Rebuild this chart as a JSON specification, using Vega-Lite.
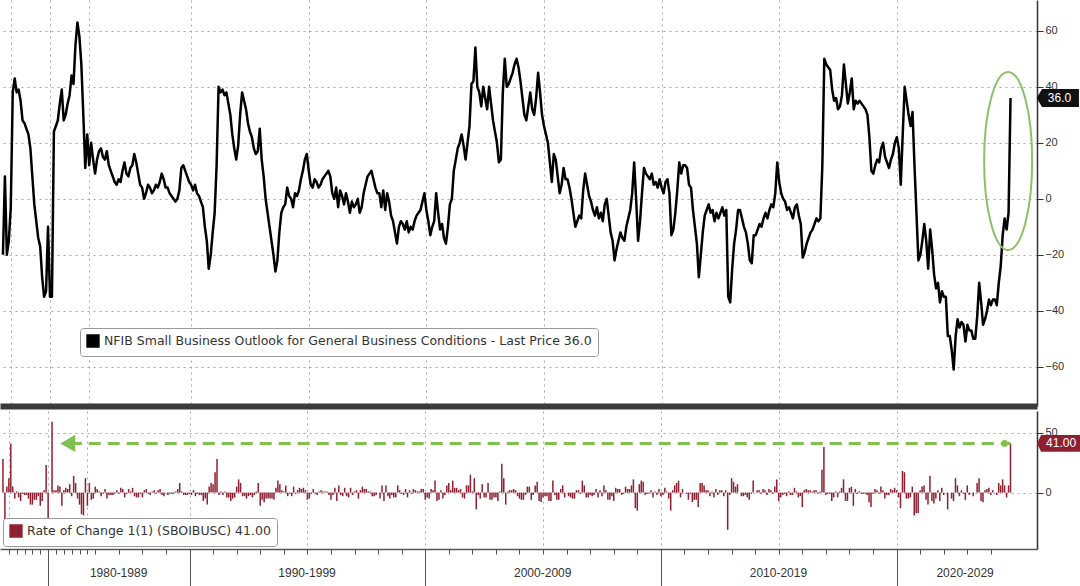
{
"$schema": "https://vega.github.io/schema/vega-lite/v6.json",
"padding": 0,
"autosize": {"type": "pad"},
"background": "white",
"spacing": 5,
"config": {"view": {"stroke": null}, "font": "Liberation Sans", "axis": {"labelFont": "Liberation Sans"}, "legend": {"labelFont": "DejaVu Sans"}},
"resolve": {"scale": {"color": "independent"}},
"datasets": {"n": [
{"d":"1974-01","v":-20},{"d":"1974-04","v":8,"c":28},{"d":"1974-07","v":-20,"c":-28},{"d":"1974-10","v":-15,"c":5},
{"d":"1975-01","v":-3,"c":12},{"d":"1975-04","v":38,"c":41},{"d":"1975-07","v":43,"c":5},{"d":"1975-10","v":38,"c":-5},
{"d":"1976-01","v":39,"c":1},{"d":"1976-04","v":35,"c":-4},{"d":"1976-07","v":28,"c":-7},{"d":"1976-10","v":27,"c":-1},
{"d":"1977-01","v":25,"c":-2},{"d":"1977-04","v":23,"c":-2},{"d":"1977-07","v":18,"c":-5},{"d":"1977-10","v":8,"c":-10},
{"d":"1978-01","v":-2,"c":-10},{"d":"1978-04","v":-8,"c":-6},{"d":"1978-07","v":-14,"c":-6},{"d":"1978-10","v":-17,"c":-3},
{"d":"1979-01","v":-28,"c":-11},{"d":"1979-04","v":-35,"c":-7},{"d":"1979-07","v":-33,"c":2},{"d":"1979-10","v":-10,"c":23},
{"d":"1980-01","v":-35,"c":-25},{"d":"1980-04","v":-35,"c":0},{"d":"1980-07","v":24,"c":59},{"d":"1980-10","v":26,"c":2},
{"d":"1981-01","v":28,"c":2},{"d":"1981-04","v":34,"c":6},{"d":"1981-07","v":39,"c":5},{"d":"1981-10","v":28,"c":-11},
{"d":"1982-01","v":30,"c":2},{"d":"1982-04","v":34,"c":4},{"d":"1982-07","v":37,"c":3},{"d":"1982-10","v":44,"c":7},
{"d":"1983-01","v":41,"c":-3},{"d":"1983-04","v":55,"c":14},{"d":"1983-07","v":63,"c":8},{"d":"1983-10","v":58,"c":-5},
{"d":"1984-01","v":48,"c":-10},{"d":"1984-04","v":30,"c":-18},{"d":"1984-07","v":11,"c":-19},{"d":"1984-10","v":23,"c":12},
{"d":"1985-01","v":12,"c":-11},{"d":"1985-04","v":20,"c":8},{"d":"1985-07","v":14,"c":-6},{"d":"1985-10","v":9,"c":-5},
{"d":"1986-01","v":14,"c":5},{"d":"1986-02","v":17,"c":3},{"d":"1986-03","v":18,"c":1},{"d":"1986-04","v":15,"c":-3},{"d":"1986-05","v":14,"c":-1},{"d":"1986-06","v":17,"c":3},{"d":"1986-07","v":12,"c":-5},{"d":"1986-08","v":10,"c":-2},{"d":"1986-09","v":8,"c":-2},{"d":"1986-10","v":6,"c":-2},{"d":"1986-11","v":5,"c":-1},{"d":"1986-12","v":7,"c":2},
{"d":"1987-01","v":6,"c":-1},{"d":"1987-02","v":10,"c":4},{"d":"1987-03","v":13,"c":3},{"d":"1987-04","v":9,"c":-4},{"d":"1987-05","v":8,"c":-1},{"d":"1987-06","v":11,"c":3},{"d":"1987-07","v":12,"c":1},{"d":"1987-08","v":16,"c":4},{"d":"1987-09","v":13,"c":-3},{"d":"1987-10","v":9,"c":-4},{"d":"1987-11","v":5,"c":-4},{"d":"1987-12","v":4,"c":-1},
{"d":"1988-01","v":0,"c":-4},{"d":"1988-02","v":2,"c":2},{"d":"1988-03","v":5,"c":3},{"d":"1988-04","v":4,"c":-1},{"d":"1988-05","v":2,"c":-2},{"d":"1988-06","v":3,"c":1},{"d":"1988-07","v":5,"c":2},{"d":"1988-08","v":4,"c":-1},{"d":"1988-09","v":6,"c":2},{"d":"1988-10","v":9,"c":3},{"d":"1988-11","v":7,"c":-2},{"d":"1988-12","v":4,"c":-3},
{"d":"1989-01","v":4,"c":0},{"d":"1989-02","v":2,"c":-2},{"d":"1989-03","v":1,"c":-1},{"d":"1989-04","v":0,"c":-1},{"d":"1989-05","v":-1,"c":-1},{"d":"1989-06","v":0,"c":1},{"d":"1989-07","v":3,"c":3},{"d":"1989-08","v":11,"c":8},{"d":"1989-09","v":12,"c":1},{"d":"1989-10","v":10,"c":-2},{"d":"1989-11","v":8,"c":-2},{"d":"1989-12","v":6,"c":-2},
{"d":"1990-01","v":5,"c":-1},{"d":"1990-02","v":3,"c":-2},{"d":"1990-03","v":5,"c":2},{"d":"1990-04","v":2,"c":-3},{"d":"1990-05","v":1,"c":-1},{"d":"1990-06","v":-1,"c":-2},{"d":"1990-07","v":-3,"c":-2},{"d":"1990-08","v":-10,"c":-7},{"d":"1990-09","v":-15,"c":-5},{"d":"1990-10","v":-25,"c":-10},{"d":"1990-11","v":-20,"c":5},{"d":"1990-12","v":-12,"c":8},
{"d":"1991-01","v":-5,"c":7},{"d":"1991-02","v":12,"c":17},{"d":"1991-03","v":40,"c":28},{"d":"1991-04","v":38,"c":-2},{"d":"1991-05","v":39,"c":1},{"d":"1991-06","v":37,"c":-2},{"d":"1991-07","v":38,"c":1},{"d":"1991-08","v":34,"c":-4},{"d":"1991-09","v":30,"c":-4},{"d":"1991-10","v":23,"c":-7},{"d":"1991-11","v":18,"c":-5},{"d":"1991-12","v":14,"c":-4},
{"d":"1992-01","v":19,"c":5},{"d":"1992-02","v":30,"c":11},{"d":"1992-03","v":38,"c":8},{"d":"1992-04","v":35,"c":-3},{"d":"1992-05","v":32,"c":-3},{"d":"1992-06","v":27,"c":-5},{"d":"1992-07","v":24,"c":-3},{"d":"1992-08","v":22,"c":-2},{"d":"1992-09","v":18,"c":-4},{"d":"1992-10","v":16,"c":-2},{"d":"1992-11","v":17,"c":1},{"d":"1992-12","v":25,"c":8},
{"d":"1993-01","v":14,"c":-11},{"d":"1993-02","v":8,"c":-6},{"d":"1993-03","v":0,"c":-8},{"d":"1993-04","v":-5,"c":-5},{"d":"1993-05","v":-10,"c":-5},{"d":"1993-06","v":-15,"c":-5},{"d":"1993-07","v":-20,"c":-5},{"d":"1993-08","v":-26,"c":-6},{"d":"1993-09","v":-22,"c":4},{"d":"1993-10","v":-12,"c":10},{"d":"1993-11","v":-5,"c":7},{"d":"1993-12","v":-3,"c":2},
{"d":"1994-01","v":-2,"c":1},{"d":"1994-02","v":4,"c":6},{"d":"1994-03","v":1,"c":-3},{"d":"1994-04","v":0,"c":-1},{"d":"1994-05","v":-3,"c":-3},{"d":"1994-06","v":2,"c":5},{"d":"1994-07","v":1,"c":-1},{"d":"1994-08","v":3,"c":2},{"d":"1994-09","v":7,"c":4},{"d":"1994-10","v":10,"c":3},{"d":"1994-11","v":14,"c":4},{"d":"1994-12","v":16,"c":2},
{"d":"1995-01","v":10,"c":-6},{"d":"1995-02","v":5,"c":-5},{"d":"1995-03","v":4,"c":-1},{"d":"1995-04","v":7,"c":3},{"d":"1995-05","v":6,"c":-1},{"d":"1995-06","v":4,"c":-2},{"d":"1995-07","v":5,"c":1},{"d":"1995-08","v":7,"c":2},{"d":"1995-09","v":8,"c":1},{"d":"1995-10","v":9,"c":1},{"d":"1995-11","v":10,"c":1},{"d":"1995-12","v":8,"c":-2},
{"d":"1996-01","v":2,"c":-6},{"d":"1996-02","v":0,"c":-2},{"d":"1996-03","v":4,"c":4},{"d":"1996-04","v":-3,"c":-7},{"d":"1996-05","v":3,"c":6},{"d":"1996-06","v":1,"c":-2},{"d":"1996-07","v":-2,"c":-3},{"d":"1996-08","v":2,"c":4},{"d":"1996-09","v":-1,"c":-3},{"d":"1996-10","v":-5,"c":-4},{"d":"1996-11","v":-1,"c":4},{"d":"1996-12","v":-3,"c":-2},
{"d":"1997-01","v":-2,"c":1},{"d":"1997-02","v":0,"c":2},{"d":"1997-03","v":-5,"c":-5},{"d":"1997-04","v":-3,"c":2},{"d":"1997-05","v":2,"c":5},{"d":"1997-06","v":5,"c":3},{"d":"1997-07","v":8,"c":3},{"d":"1997-08","v":9,"c":1},{"d":"1997-09","v":10,"c":1},{"d":"1997-10","v":7,"c":-3},{"d":"1997-11","v":4,"c":-3},{"d":"1997-12","v":2,"c":-2},
{"d":"1998-01","v":2,"c":0},{"d":"1998-02","v":-3,"c":-5},{"d":"1998-03","v":3,"c":6},{"d":"1998-04","v":-4,"c":-7},{"d":"1998-05","v":2,"c":6},{"d":"1998-06","v":-1,"c":-3},{"d":"1998-07","v":-6,"c":-5},{"d":"1998-08","v":-8,"c":-2},{"d":"1998-09","v":-12,"c":-4},{"d":"1998-10","v":-16,"c":-4},{"d":"1998-11","v":-10,"c":6},{"d":"1998-12","v":-8,"c":2},
{"d":"1999-01","v":-9,"c":-1},{"d":"1999-02","v":-11,"c":-2},{"d":"1999-03","v":-8,"c":3},{"d":"1999-04","v":-12,"c":-4},{"d":"1999-05","v":-10,"c":2},{"d":"1999-06","v":-11,"c":-1},{"d":"1999-07","v":-8,"c":3},{"d":"1999-08","v":-6,"c":2},{"d":"1999-09","v":-5,"c":1},{"d":"1999-10","v":-4,"c":1},{"d":"1999-11","v":-1,"c":3},{"d":"1999-12","v":2,"c":3},
{"d":"2000-01","v":-4,"c":-6},{"d":"2000-02","v":-8,"c":-4},{"d":"2000-03","v":-13,"c":-5},{"d":"2000-04","v":-10,"c":3},{"d":"2000-05","v":-8,"c":2},{"d":"2000-06","v":2,"c":10},{"d":"2000-07","v":-5,"c":-7},{"d":"2000-08","v":-11,"c":-6},{"d":"2000-09","v":-9,"c":2},{"d":"2000-10","v":-14,"c":-5},{"d":"2000-11","v":-16,"c":-2},{"d":"2000-12","v":-10,"c":6},
{"d":"2001-01","v":-2,"c":8},{"d":"2001-02","v":0,"c":2},{"d":"2001-03","v":10,"c":10},{"d":"2001-04","v":14,"c":4},{"d":"2001-05","v":18,"c":4},{"d":"2001-06","v":20,"c":2},{"d":"2001-07","v":23,"c":3},{"d":"2001-08","v":19,"c":-4},{"d":"2001-09","v":14,"c":-5},{"d":"2001-10","v":20,"c":6},{"d":"2001-11","v":26,"c":6},{"d":"2001-12","v":41,"c":15},
{"d":"2002-01","v":42,"c":1},{"d":"2002-02","v":54,"c":12},{"d":"2002-03","v":40,"c":-14},{"d":"2002-04","v":38,"c":-2},{"d":"2002-05","v":33,"c":-5},{"d":"2002-06","v":40,"c":7},{"d":"2002-07","v":36,"c":-4},{"d":"2002-08","v":32,"c":-4},{"d":"2002-09","v":40,"c":8},{"d":"2002-10","v":34,"c":-6},{"d":"2002-11","v":28,"c":-6},{"d":"2002-12","v":24,"c":-4},
{"d":"2003-01","v":20,"c":-4},{"d":"2003-02","v":13,"c":-7},{"d":"2003-03","v":14,"c":1},{"d":"2003-04","v":38,"c":24},{"d":"2003-05","v":50,"c":12},{"d":"2003-06","v":40,"c":-10},{"d":"2003-07","v":41,"c":1},{"d":"2003-08","v":43,"c":2},{"d":"2003-09","v":45,"c":2},{"d":"2003-10","v":48,"c":3},{"d":"2003-11","v":50,"c":2},{"d":"2003-12","v":47,"c":-3},
{"d":"2004-01","v":42,"c":-5},{"d":"2004-02","v":36,"c":-6},{"d":"2004-03","v":30,"c":-6},{"d":"2004-04","v":28,"c":-2},{"d":"2004-05","v":33,"c":5},{"d":"2004-06","v":38,"c":5},{"d":"2004-07","v":32,"c":-6},{"d":"2004-08","v":30,"c":-2},{"d":"2004-09","v":36,"c":6},{"d":"2004-10","v":45,"c":9},{"d":"2004-11","v":38,"c":-7},{"d":"2004-12","v":30,"c":-8},
{"d":"2005-01","v":26,"c":-4},{"d":"2005-02","v":23,"c":-3},{"d":"2005-03","v":20,"c":-3},{"d":"2005-04","v":13,"c":-7},{"d":"2005-05","v":6,"c":-7},{"d":"2005-06","v":16,"c":10},{"d":"2005-07","v":14,"c":-2},{"d":"2005-08","v":8,"c":-6},{"d":"2005-09","v":2,"c":-6},{"d":"2005-10","v":5,"c":3},{"d":"2005-11","v":11,"c":6},{"d":"2005-12","v":7,"c":-4},
{"d":"2006-01","v":7,"c":0},{"d":"2006-02","v":4,"c":-3},{"d":"2006-03","v":0,"c":-4},{"d":"2006-04","v":-5,"c":-5},{"d":"2006-05","v":-10,"c":-5},{"d":"2006-06","v":-8,"c":2},{"d":"2006-07","v":-6,"c":2},{"d":"2006-08","v":-7,"c":-1},{"d":"2006-09","v":3,"c":10},{"d":"2006-10","v":9,"c":6},{"d":"2006-11","v":5,"c":-4},{"d":"2006-12","v":1,"c":-4},
{"d":"2007-01","v":-1,"c":-2},{"d":"2007-02","v":-4,"c":-3},{"d":"2007-03","v":-6,"c":-2},{"d":"2007-04","v":-3,"c":3},{"d":"2007-05","v":-7,"c":-4},{"d":"2007-06","v":-5,"c":2},{"d":"2007-07","v":-8,"c":-3},{"d":"2007-08","v":-2,"c":6},{"d":"2007-09","v":0,"c":2},{"d":"2007-10","v":-6,"c":-6},{"d":"2007-11","v":-12,"c":-6},{"d":"2007-12","v":-15,"c":-3},
{"d":"2008-01","v":-22,"c":-7},{"d":"2008-02","v":-18,"c":4},{"d":"2008-03","v":-15,"c":3},{"d":"2008-04","v":-12,"c":3},{"d":"2008-05","v":-14,"c":-2},{"d":"2008-06","v":-15,"c":-1},{"d":"2008-07","v":-10,"c":5},{"d":"2008-08","v":-7,"c":3},{"d":"2008-09","v":-4,"c":3},{"d":"2008-10","v":2,"c":6},{"d":"2008-11","v":13,"c":11},{"d":"2008-12","v":0,"c":-13},
{"d":"2009-01","v":-15,"c":-15},{"d":"2009-02","v":-8,"c":7},{"d":"2009-03","v":2,"c":10},{"d":"2009-04","v":11,"c":9},{"d":"2009-05","v":9,"c":-2},{"d":"2009-06","v":8,"c":-1},{"d":"2009-07","v":7,"c":-1},{"d":"2009-08","v":9,"c":2},{"d":"2009-09","v":5,"c":-4},{"d":"2009-10","v":6,"c":1},{"d":"2009-11","v":4,"c":-2},{"d":"2009-12","v":7,"c":3},
{"d":"2010-01","v":4,"c":-3},{"d":"2010-02","v":2,"c":-2},{"d":"2010-03","v":6,"c":4},{"d":"2010-04","v":7,"c":1},{"d":"2010-05","v":2,"c":-5},{"d":"2010-06","v":-13,"c":-15},{"d":"2010-07","v":-11,"c":2},{"d":"2010-08","v":-5,"c":6},{"d":"2010-09","v":3,"c":8},{"d":"2010-10","v":13,"c":10},{"d":"2010-11","v":9,"c":-4},{"d":"2010-12","v":12,"c":3},
{"d":"2011-01","v":12,"c":0},{"d":"2011-02","v":11,"c":-1},{"d":"2011-03","v":5,"c":-6},{"d":"2011-04","v":4,"c":-1},{"d":"2011-05","v":-4,"c":-8},{"d":"2011-06","v":-10,"c":-6},{"d":"2011-07","v":-16,"c":-6},{"d":"2011-08","v":-28,"c":-12},{"d":"2011-09","v":-20,"c":8},{"d":"2011-10","v":-12,"c":8},{"d":"2011-11","v":-6,"c":6},{"d":"2011-12","v":-4,"c":2},
{"d":"2012-01","v":-2,"c":2},{"d":"2012-02","v":-5,"c":-3},{"d":"2012-03","v":-4,"c":1},{"d":"2012-04","v":-8,"c":-4},{"d":"2012-05","v":-5,"c":3},{"d":"2012-06","v":-7,"c":-2},{"d":"2012-07","v":-5,"c":2},{"d":"2012-08","v":-3,"c":2},{"d":"2012-09","v":-6,"c":-3},{"d":"2012-10","v":-4,"c":2},{"d":"2012-11","v":-35,"c":-31},{"d":"2012-12","v":-37,"c":-2},
{"d":"2013-01","v":-25,"c":12},{"d":"2013-02","v":-16,"c":9},{"d":"2013-03","v":-11,"c":5},{"d":"2013-04","v":-4,"c":7},{"d":"2013-05","v":-4,"c":0},{"d":"2013-06","v":-7,"c":-3},{"d":"2013-07","v":-10,"c":-3},{"d":"2013-08","v":-12,"c":-2},{"d":"2013-09","v":-16,"c":-4},{"d":"2013-10","v":-22,"c":-6},{"d":"2013-11","v":-23,"c":-1},{"d":"2013-12","v":-13,"c":10},
{"d":"2014-01","v":-13,"c":0},{"d":"2014-02","v":-11,"c":2},{"d":"2014-03","v":-9,"c":2},{"d":"2014-04","v":-10,"c":-1},{"d":"2014-05","v":-7,"c":3},{"d":"2014-06","v":-5,"c":2},{"d":"2014-07","v":-7,"c":-2},{"d":"2014-08","v":-4,"c":3},{"d":"2014-09","v":-2,"c":2},{"d":"2014-10","v":-3,"c":-1},{"d":"2014-11","v":2,"c":5},{"d":"2014-12","v":13,"c":11},
{"d":"2015-01","v":6,"c":-7},{"d":"2015-02","v":2,"c":-4},{"d":"2015-03","v":0,"c":-2},{"d":"2015-04","v":-1,"c":-1},{"d":"2015-05","v":-4,"c":-3},{"d":"2015-06","v":-3,"c":1},{"d":"2015-07","v":-5,"c":-2},{"d":"2015-08","v":-7,"c":-2},{"d":"2015-09","v":-3,"c":4},{"d":"2015-10","v":-2,"c":1},{"d":"2015-11","v":-6,"c":-4},{"d":"2015-12","v":-9,"c":-3},
{"d":"2016-01","v":-21,"c":-12},{"d":"2016-02","v":-19,"c":2},{"d":"2016-03","v":-16,"c":3},{"d":"2016-04","v":-14,"c":2},{"d":"2016-05","v":-12,"c":2},{"d":"2016-06","v":-11,"c":1},{"d":"2016-07","v":-9,"c":2},{"d":"2016-08","v":-7,"c":2},{"d":"2016-09","v":-8,"c":-1},{"d":"2016-10","v":-7,"c":1},{"d":"2016-11","v":12,"c":19},{"d":"2016-12","v":50,"c":38},
{"d":"2017-01","v":48,"c":-2},{"d":"2017-02","v":47,"c":-1},{"d":"2017-03","v":46,"c":-1},{"d":"2017-04","v":39,"c":-7},{"d":"2017-05","v":35,"c":-4},{"d":"2017-06","v":36,"c":1},{"d":"2017-07","v":32,"c":-4},{"d":"2017-08","v":33,"c":1},{"d":"2017-09","v":37,"c":4},{"d":"2017-10","v":48,"c":11},{"d":"2017-11","v":41,"c":-7},{"d":"2017-12","v":34,"c":-7},
{"d":"2018-01","v":38,"c":4},{"d":"2018-02","v":43,"c":5},{"d":"2018-03","v":32,"c":-11},{"d":"2018-04","v":35,"c":3},{"d":"2018-05","v":34,"c":-1},{"d":"2018-06","v":35,"c":1},{"d":"2018-07","v":34,"c":-1},{"d":"2018-08","v":33,"c":-1},{"d":"2018-09","v":32,"c":-1},{"d":"2018-10","v":30,"c":-2},{"d":"2018-11","v":22,"c":-8},{"d":"2018-12","v":10,"c":-12},
{"d":"2019-01","v":9,"c":-1},{"d":"2019-02","v":12,"c":3},{"d":"2019-03","v":14,"c":2},{"d":"2019-04","v":13,"c":-1},{"d":"2019-05","v":18,"c":5},{"d":"2019-06","v":20,"c":2},{"d":"2019-07","v":15,"c":-5},{"d":"2019-08","v":13,"c":-2},{"d":"2019-09","v":11,"c":-2},{"d":"2019-10","v":14,"c":3},{"d":"2019-11","v":16,"c":2},{"d":"2019-12","v":20,"c":4},
{"d":"2020-01","v":22,"c":2},{"d":"2020-02","v":18,"c":-4},{"d":"2020-03","v":5,"c":-13},{"d":"2020-04","v":23,"c":18},{"d":"2020-05","v":40,"c":17},{"d":"2020-06","v":35,"c":-5},{"d":"2020-07","v":30,"c":-5},{"d":"2020-08","v":26,"c":-4},{"d":"2020-09","v":31,"c":5},{"d":"2020-10","v":12,"c":-19},{"d":"2020-11","v":-5,"c":-17},{"d":"2020-12","v":-22,"c":-17},
{"d":"2021-01","v":-20,"c":2},{"d":"2021-02","v":-15,"c":5},{"d":"2021-03","v":-9,"c":6},{"d":"2021-04","v":-15,"c":-6},{"d":"2021-05","v":-25,"c":-10},{"d":"2021-06","v":-11,"c":14},{"d":"2021-07","v":-18,"c":-7},{"d":"2021-08","v":-27,"c":-9},{"d":"2021-09","v":-32,"c":-5},{"d":"2021-10","v":-30,"c":2},{"d":"2021-11","v":-37,"c":-7},{"d":"2021-12","v":-33,"c":4},
{"d":"2022-01","v":-35,"c":-2},{"d":"2022-02","v":-35,"c":0},{"d":"2022-03","v":-49,"c":-14},{"d":"2022-04","v":-49,"c":0},{"d":"2022-05","v":-54,"c":-5},{"d":"2022-06","v":-61,"c":-7},{"d":"2022-07","v":-49,"c":12},{"d":"2022-08","v":-43,"c":6},{"d":"2022-09","v":-46,"c":-3},{"d":"2022-10","v":-44,"c":2},{"d":"2022-11","v":-45,"c":-1},{"d":"2022-12","v":-51,"c":-6},
{"d":"2023-01","v":-45,"c":6},{"d":"2023-02","v":-47,"c":-2},{"d":"2023-03","v":-47,"c":0},{"d":"2023-04","v":-50,"c":-3},{"d":"2023-05","v":-50,"c":0},{"d":"2023-06","v":-42,"c":8},{"d":"2023-07","v":-30,"c":12},{"d":"2023-08","v":-37,"c":-7},{"d":"2023-09","v":-45,"c":-8},{"d":"2023-10","v":-43,"c":2},{"d":"2023-11","v":-40,"c":3},{"d":"2023-12","v":-36,"c":4},
{"d":"2024-01","v":-38,"c":-2},{"d":"2024-02","v":-36,"c":2},{"d":"2024-03","v":-36,"c":0},{"d":"2024-04","v":-38,"c":-2},{"d":"2024-05","v":-30,"c":8},{"d":"2024-06","v":-24,"c":6},{"d":"2024-07","v":-13,"c":11},{"d":"2024-08","v":-7,"c":6},{"d":"2024-09","v":-11,"c":-4},{"d":"2024-10","v":-5,"c":6},{"d":"2024-11","v":36,"c":41}
]},
"vconcat": [
{
"width": 1037, "height": 406,
"data": {"name": "n"},
"encoding": {
  "x": {"field": "d", "type": "ordinal",
    "scale": {"type": "point", "padding": 0.5, "domain": {"unionWith": ["1973-10","2024-12","2025-01","2025-02","2025-03","2025-04","2025-05","2025-06","2025-07","2025-08","2025-09","2025-10","2025-11","2025-12"]}},
    "axis": {"values": ["1975-01","1980-01","1985-01","1990-01","1995-01","2000-01","2005-01","2010-01","2015-01","2020-01"],
      "title": null, "labels": false, "ticks": false, "grid": true, "gridDash": [2,4], "gridColor": "#a8a8a8",
      "domainColor": "#3a3a3a", "domainWidth": 6}}
},
"layer": [
  {"mark": {"type": "line", "strokeWidth": 2.5, "strokeJoin": "round"},
   "encoding": {
     "y": {"field": "v", "type": "quantitative", "scale": {"domain": [-74, 71], "nice": false, "zero": false},
       "axis": {"orient": "right", "title": null, "values": [-60,-40,-20,0,20,40,60], "labelOverlap": false,
         "grid": true, "gridDash": [2,4], "gridColor": "#a8a8a8", "tickSize": 6,
         "tickColor": "#333", "domainColor": "#333", "domainWidth": 1.5, "labelColor": "#333", "labelFontSize": 11, "labelPadding": 2}},
     "color": {"datum": "NFIB Small Business Outlook for General Business Conditions - Last Price 36.0",
       "scale": {"range": ["#000000"]},
       "legend": {"title": null, "orient": "none", "legendX": 80, "legendY": 328, "symbolType": "square", "symbolSize": 140,
         "symbolFillColor": "#000", "symbolStrokeColor": "#000", "labelFontSize": 12.5, "labelColor": "#333", "labelLimit": 1000,
         "strokeColor": "#999", "fillColor": "#ffffff", "padding": 6, "cornerRadius": 3}}
   }},
  {"transform": [{"filter": "datum.d == '2024-11'"}],
   "mark": {"type": "point", "shape": "M -0.297,0 A 0.27,1 0 1,0 0.243,0 A 0.27,1 0 1,0 -0.297,0 Z", "size": 31684, "filled": false, "color": "#8dc06a", "strokeWidth": 2, "opacity": 1},
   "encoding": {"y": {"datum": 13.5}}},
  {"transform": [{"filter": "datum.d == '2024-11'"}],
   "mark": {"type": "point", "shape": "M 1.45,0 L 1.75,-0.5 L 3.8,-0.5 L 3.8,0.5 L 1.75,0.5 Z", "size": 1296, "filled": true, "color": "#111111", "opacity": 1},
   "encoding": {"y": {"field": "v", "type": "quantitative"}}},
  {"transform": [{"filter": "datum.d == '2024-11'"}],
   "mark": {"type": "text", "dx": 49, "color": "#ffffff", "fontSize": 12, "align": "center", "baseline": "middle"},
   "encoding": {"y": {"field": "v", "type": "quantitative"}, "text": {"field": "v", "format": ".1f"}}}
]
},
{
"width": 1037, "height": 138,
"data": {"name": "n"},
"encoding": {
  "x": {"field": "d", "type": "ordinal",
    "scale": {"type": "point", "padding": 0.5, "domain": {"unionWith": ["1973-10","2024-12","2025-01","2025-02","2025-03","2025-04","2025-05","2025-06","2025-07","2025-08","2025-09","2025-10","2025-11","2025-12"]}},
    "axis": {"values": ["1975-01","1976-01","1977-01","1978-01","1979-01","1980-01","1981-01","1982-01","1983-01","1984-01","1985-01","1986-01","1987-01","1988-01","1989-01","1990-01","1991-01","1992-01","1993-01","1994-01","1995-01","1996-01","1997-01","1998-01","1999-01","2000-01","2001-01","2002-01","2003-01","2004-01","2005-01","2006-01","2007-01","2008-01","2009-01","2010-01","2011-01","2012-01","2013-01","2014-01","2015-01","2016-01","2017-01","2018-01","2019-01","2020-01","2021-01","2022-01","2023-01","2024-01"],
      "title": null, "labelAngle": 0, "labelOverlap": false,
      "domainColor": "#555", "domainWidth": 1.5, "tickColor": "#555",
      "tickSize": {"condition": {"test": "substring(datum.value,3,4) == '0'", "value": 38}, "value": 5},
      "grid": true, "gridDash": [2,4], "gridColor": "#a8a8a8",
      "gridOpacity": {"condition": {"test": "substring(datum.value,3,4) == '0' || substring(datum.value,3,4) == '5'", "value": 1}, "value": 0},
      "labelExpr": "substring(datum.value,3,4) == '0' ? substring(datum.value,0,3) + '0-' + substring(datum.value,0,3) + '9' : ''",
      "labelOffset": {"condition": [{"test": "datum.value == '1980-01'", "value": 70}, {"test": "datum.value == '2020-01'", "value": 68}], "value": 117},
      "labelPadding": -20, "labelFontSize": 12, "labelColor": "#333"}}
},
"layer": [
  {"mark": {"type": "rule", "strokeWidth": 1.5},
   "encoding": {
     "y": {"field": "c", "type": "quantitative", "scale": {"domain": [-47, 68], "nice": false, "zero": false},
       "axis": {"orient": "right", "title": null, "values": [0, 50], "labelOverlap": false,
         "grid": true, "gridDash": [2,4], "gridColor": "#a8a8a8", "tickSize": 6,
         "tickColor": "#333", "domainColor": "#333", "domainWidth": 1.5, "labelColor": "#333", "labelFontSize": 11, "labelPadding": 2}},
     "y2": {"datum": 0},
     "color": {"datum": "Rate of Change 1(1) (SBOIBUSC) 41.00",
       "scale": {"range": ["#8e1f30"]},
       "legend": {"title": null, "orient": "none", "legendX": 3, "legendY": 107, "symbolType": "square", "symbolSize": 140,
         "symbolFillColor": "#8e1f30", "symbolStrokeColor": "#8e1f30", "labelFontSize": 12.5, "labelColor": "#333", "labelLimit": 1000,
         "strokeColor": "#999", "fillColor": "#ffffff", "padding": 6, "cornerRadius": 3}}
   }},
  {"transform": [{"filter": "datum.d == '2024-11'"}],
   "mark": {"type": "rule", "color": "#80c050", "strokeWidth": 3, "strokeDash": [12, 7]},
   "encoding": {"x": {"datum": "1982-10"}, "x2": {"field": "d"}, "y": {"field": "c", "type": "quantitative"}}},
  {"transform": [{"filter": "datum.d == '2024-11'"}],
   "mark": {"type": "point", "shape": "triangle-left", "size": 300, "filled": true, "color": "#80c050", "opacity": 1},
   "encoding": {"x": {"datum": "1982-07"}, "y": {"field": "c", "type": "quantitative"}}},
  {"transform": [{"filter": "datum.d == '2024-11'"}],
   "mark": {"type": "point", "shape": "circle", "size": 45, "filled": true, "color": "#80c050", "opacity": 1},
   "encoding": {"x": {"datum": "2024-08"}, "y": {"field": "c", "type": "quantitative"}}},
  {"transform": [{"filter": "datum.d == '2024-11'"}],
   "mark": {"type": "point", "shape": "M 1.33,0 L 1.53,-0.42 L 3.53,-0.42 L 3.53,0.42 L 1.53,0.42 Z", "size": 1600, "filled": true, "color": "#8e1f30", "opacity": 1},
   "encoding": {"y": {"field": "c", "type": "quantitative"}}},
  {"transform": [{"filter": "datum.d == '2024-11'"}],
   "mark": {"type": "text", "dx": 50.6, "color": "#ffffff", "fontSize": 12, "align": "center", "baseline": "middle"},
   "encoding": {"y": {"field": "c", "type": "quantitative"}, "text": {"field": "c", "format": ".2f"}}}
]
}
]
}
